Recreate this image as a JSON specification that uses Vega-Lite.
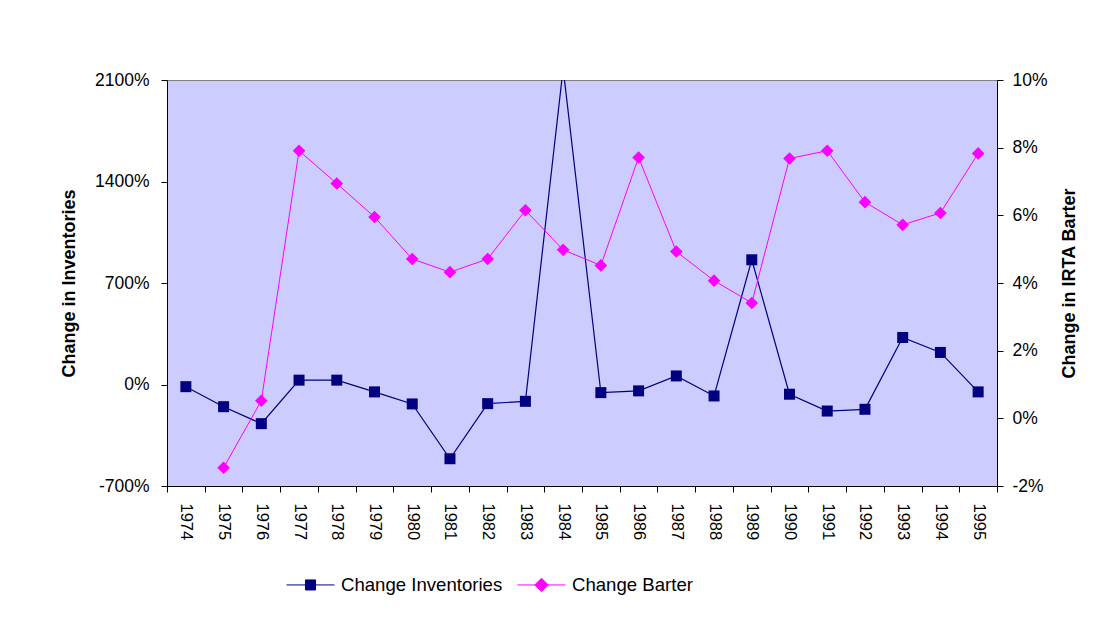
{
  "$schema": "https://vega.github.io/schema/vega-lite/v6.json",
  "width": 830,
  "height": 406,
  "autosize": {"type": "none"},
  "padding": {"left": 167, "top": 80, "right": 122, "bottom": 137},
  "background": "white",
  "config": {
    "view": {"fill": "#CCCCFF", "stroke": "#808080", "strokeWidth": 1},
    "font": "Liberation Sans",
    "axis": {
      "labelFont": "Liberation Sans",
      "labelColor": "black",
      "domainColor": "black",
      "tickColor": "black",
      "grid": false,
      "titleFont": "Liberation Sans",
      "titleColor": "black"
    },
    "legend": {
      "orient": "none",
      "legendX": 119,
      "legendY": 480,
      "direction": "horizontal",
      "symbolSize": 2304,
      "labelFontSize": 18.6,
      "labelFont": "Liberation Sans",
      "labelColor": "black",
      "labelLimit": 0,
      "labelOffset": 6,
      "columnPadding": 12,
      "symbolStrokeWidth": 1
    }
  },
  "data": {
    "values": [
      {"year": "1974", "inv": -15, "barter": null},
      {"year": "1975", "inv": -153, "barter": -1.46},
      {"year": "1976", "inv": -270, "barter": 0.52},
      {"year": "1977", "inv": 30, "barter": 7.91},
      {"year": "1978", "inv": 30, "barter": 6.94},
      {"year": "1979", "inv": -51, "barter": 5.95},
      {"year": "1980", "inv": -134, "barter": 4.71},
      {"year": "1981", "inv": -512, "barter": 4.32},
      {"year": "1982", "inv": -132, "barter": 4.71},
      {"year": "1983", "inv": -116, "barter": 6.15},
      {"year": "1984", "inv": 2180, "barter": 4.98},
      {"year": "1985", "inv": -56, "barter": 4.52},
      {"year": "1986", "inv": -44, "barter": 7.71},
      {"year": "1987", "inv": 59, "barter": 4.93},
      {"year": "1988", "inv": -79, "barter": 4.07},
      {"year": "1989", "inv": 860, "barter": 3.41},
      {"year": "1990", "inv": -67, "barter": 7.68},
      {"year": "1991", "inv": -183, "barter": 7.91},
      {"year": "1992", "inv": -171, "barter": 6.39},
      {"year": "1993", "inv": 324, "barter": 5.72},
      {"year": "1994", "inv": 221, "barter": 6.07},
      {"year": "1995", "inv": -51, "barter": 7.83}
    ]
  },
  "encoding": {
    "x": {
      "field": "year",
      "type": "ordinal",
      "scale": {"type": "band", "paddingInner": 0, "paddingOuter": 0},
      "axis": {
        "title": null,
        "labelAngle": 90,
        "labelFontSize": 16.5,
        "tickSize": 6,
        "labelPadding": 11,
        "tickBand": "extent"
      }
    },
    "color": {
      "datum": "Change Inventories",
      "scale": {"domain": ["Change Inventories", "Change Barter"], "range": ["#000080", "#FF00FF"]},
      "legend": {
        "title": null,
        "labelLimit": 0,
        "encode": {
          "symbols": {
            "update": {
              "shape": {"signal": "datum.value === 'Change Inventories' ? 'M-1,0H1M-0.21,-0.21H0.21V0.21H-0.21Z' : 'M-1,0H1M0,-0.28L0.28,0L0,0.28L-0.28,0Z'"},
              "fill": {"signal": "datum.value === 'Change Inventories' ? '#000080' : '#FF00FF'"},
              "stroke": {"signal": "datum.value === 'Change Inventories' ? '#000080' : '#FF00FF'"},
              "strokeWidth": {"value": 1},
              "opacity": {"value": 1},
              "fillOpacity": {"value": 1}
            }
          }
        }
      }
    }
  },
  "layer": [
    {
      "encoding": {
        "y": {
          "field": "inv",
          "type": "quantitative",
          "scale": {"domain": [-700, 2100], "nice": false, "zero": false},
          "axis": {
            "orient": "left",
            "values": [-700, 0, 700, 1400, 2100],
            "labelExpr": "datum.value + '%'",
            "title": "Change in Inventories",
            "titleFontSize": 18,
            "titleFontWeight": "bold",
            "labelFontSize": 17.5,
            "tickSize": 6,
            "labelPadding": 12,
            "titlePadding": 16
          }
        },
        "color": {"datum": "Change Inventories"}
      },
      "layer": [
        {"mark": {"type": "line", "strokeWidth": 1.2, "clip": true}},
        {"mark": {"type": "point", "shape": "square", "filled": true, "size": 121, "opacity": 1, "clip": true}}
      ]
    },
    {
      "encoding": {
        "y": {
          "field": "barter",
          "type": "quantitative",
          "scale": {"domain": [-2, 10], "nice": false, "zero": false},
          "axis": {
            "orient": "right",
            "values": [-2, 0, 2, 4, 6, 8, 10],
            "labelExpr": "datum.value + '%'",
            "title": "Change in IRTA Barter",
            "titleAngle": 270,
            "titleFontSize": 18,
            "titleFontWeight": "bold",
            "labelFontSize": 17.5,
            "tickSize": 6,
            "labelPadding": 9,
            "titlePadding": 31
          }
        },
        "color": {"datum": "Change Barter"}
      },
      "layer": [
        {"mark": {"type": "line", "strokeWidth": 1, "clip": true}},
        {"mark": {"type": "point", "shape": "diamond", "filled": true, "size": 160, "opacity": 1, "clip": true}}
      ]
    }
  ],
  "resolve": {"scale": {"y": "independent"}}
}
